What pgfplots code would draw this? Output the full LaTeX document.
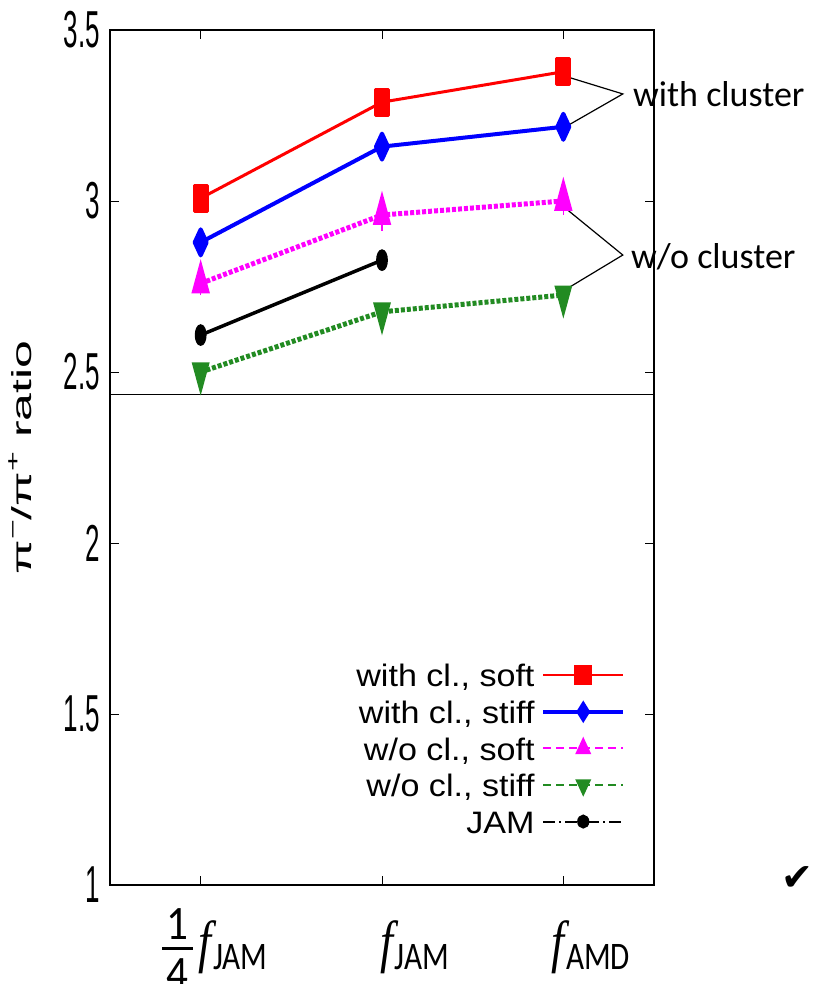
\documentclass[border=0pt]{standalone}
\usepackage{pgfplots}
\pgfplotsset{compat=1.18}
\usepackage{graphicx}
\usepackage{fontspec}
\setmainfont{Liberation Sans}
\newfontfamily\carlito{Carlito}
\newfontfamily\lserif{Liberation Serif}
\newfontfamily\dejavu{DejaVu Sans}
\definecolor{mymag}{RGB}{255,0,255}
\definecolor{mygreen}{RGB}{34,139,34}

\newcommand{\yt}[1]{\scalebox{0.5}[1]{\fontsize{52bp}{56bp}\selectfont #1}}
\newcommand{\fl}[1]{\scalebox{0.8}[1]{\fontsize{58bp}{60bp}\selectfont{\lserif\itshape f}\hspace{2bp}\raisebox{-8bp}{\fontsize{39bp}{40bp}\selectfont\carlito #1}}}
\newcommand{\qfrac}{\scalebox{0.9}[1]{\fontsize{48bp}{54bp}\selectfont\carlito
  \rlap{\raisebox{22bp}{\makebox[34bp]{1}}}%
  \rlap{\raisebox{11.5bp}{\rule{34bp}{2.5bp}}}%
  \raisebox{-28bp}{\makebox[34bp]{4}}}\hspace{6bp}}

\begin{document}
\begin{tikzpicture}
\useasboundingbox (0,0) rectangle (813bp,984bp);
\begin{axis}[
  at={(110bp,99bp)}, anchor=south west,
  scale only axis, width=544bp, height=855bp,
  xmin=-0.5, xmax=2.5, ymin=1, ymax=3.5,
  clip=false,
  axis line style={line width=1.2bp},
  tick style={line width=0.8bp, black},
  tick align=inside,
  major tick length=9bp,
  xtick={0,1,2},
  xticklabels={{\qfrac\fl{JAM}},{\fl{JAM}},{\fl{AMD}}},
  xticklabel style={anchor=base east, inner sep=0pt, xshift=67bp, yshift=-76bp},
  ytick={1,1.5,2,2.5,3,3.5},
  yticklabels={\yt{1},\yt{1.5},\yt{2},\yt{2.5},\yt{3},\yt{3.5}},
  yticklabel style={anchor=east, inner sep=0pt, xshift=-10bp},
  ylabel={\scalebox{1}[0.55]{\fontsize{50bp}{54bp}\selectfont π\raisebox{0.42em}{\fontsize{34bp}{36bp}\selectfont −}/π\raisebox{0.42em}{\fontsize{34bp}{36bp}\selectfont +} ratio}},
  ylabel style={at={(axis description cs:0,0.5)}, anchor=center, yshift=90bp, inner sep=0pt},
  legend plot pos=right,
  legend cell align=right,
  legend style={draw=none, fill=none, at={(1,0.2668)}, xshift=-29bp, anchor=north east,
    inner sep=0pt, outer sep=0pt, row sep=0pt, column sep=7bp,
    font=\fontsize{31bp}{34bp}\selectfont,
    nodes={inner sep=0pt, text height=30bp, text depth=6.6bp}},
  legend image code/.code={\draw[mark repeat=2,mark phase=2,#1] plot coordinates {(0bp,0bp) (40bp,0bp) (80bp,0bp)};},
]
% separating line
\addplot[black, line width=1bp, forget plot] coordinates {(-0.5,2.433) (2.5,2.433)};

% with cl., soft
\addplot[red, line width=3bp, line join=round, mark=square*, mark size=13bp, mark options={solid, xscale=0.5}, forget plot]
  coordinates {(0,3.008) (1,3.289) (2,3.378)};
% with cl., stiff
\addplot[blue, line width=4bp, line join=round, mark=diamond*, mark size=13bp, mark options={solid, xscale=0.615}, forget plot]
  coordinates {(0,2.879) (1,3.159) (2,3.217)};
% w/o cl., soft
\addplot[mymag, line width=5bp, dash pattern=on 4bp off 2bp, mark=triangle*, mark size=14.7bp, mark options={solid, xscale=0.47}, forget plot,
  error bars/.cd, y dir=both, y explicit, error bar style={line width=1.2bp, solid},
  error mark options={line width=1.2bp, mark size=5bp, mymag, solid}]
  coordinates {(0,2.759) +- (0,0.02) (1,2.959) +- (0,0.032) (2,3.0) +- (0,0.026)};
% JAM
\addplot[black, line width=3.5bp, mark=*, mark size=9bp, mark options={solid, xscale=0.46}, forget plot]
  coordinates {(0,2.608) (1,2.827)};
% w/o cl., stiff
\addplot[mygreen, line width=5bp, dash pattern=on 4bp off 2bp, mark=triangle*, mark size=14bp, mark options={solid, rotate=180, xscale=0.47}, forget plot]
  coordinates {(0,2.50) (1,2.676) (2,2.725)};

% annotation lines
\addplot[black, line width=1.2bp, forget plot] coordinates {(2.009,3.365) (2.328,3.313) (2.009,3.216)};
\addplot[black, line width=1.2bp, forget plot] coordinates {(2.009,2.980) (2.328,2.842) (2.009,2.740)};

% legend
\addlegendimage{red, line width=2.5bp, mark=square*, mark size=9bp, mark options={solid, xscale=0.85}}
\addlegendentry{\scalebox{1.1}[1]{with cl., soft}}
\addlegendimage{blue, line width=3.5bp, mark=diamond*, mark size=8bp, mark options={solid, xscale=0.83}}
\addlegendentry{\scalebox{1.1}[1]{with cl., stiff}}
\addlegendimage{mymag, line width=2bp, dash pattern=on 8bp off 5bp, mark=triangle*, mark size=9.3bp, mark options={solid, xscale=0.8}}
\addlegendentry{\scalebox{1.1}[1]{w/o cl., soft}}
\addlegendimage{mygreen, line width=2bp, dash pattern=on 8bp off 5bp, mark=triangle*, mark size=9.3bp, mark options={solid, rotate=180, xscale=0.8}}
\addlegendentry{\scalebox{1.1}[1]{w/o cl., stiff}}
\addlegendimage{black, line width=2bp, dash pattern=on 12bp off 4bp on 2bp off 4bp, mark=*, mark size=6bp, mark options={solid, xscale=0.85}}
\addlegendentry{\scalebox{1.1}[1]{JAM}}

\node[anchor=base west, inner sep=0pt, font=\carlito\fontsize{36bp}{40bp}\selectfont] at (axis cs:2.384,3.275) {with cluster};
\node[anchor=base west, inner sep=0pt, font=\carlito\fontsize{36bp}{40bp}\selectfont] at (axis cs:2.373,2.804) {w/o cluster};
\node[anchor=center, inner sep=0pt, font=\dejavu\fontsize{38bp}{40bp}\selectfont] at (axis cs:3.29,1.02) {✔};
\end{axis}
\end{tikzpicture}
\end{document}
